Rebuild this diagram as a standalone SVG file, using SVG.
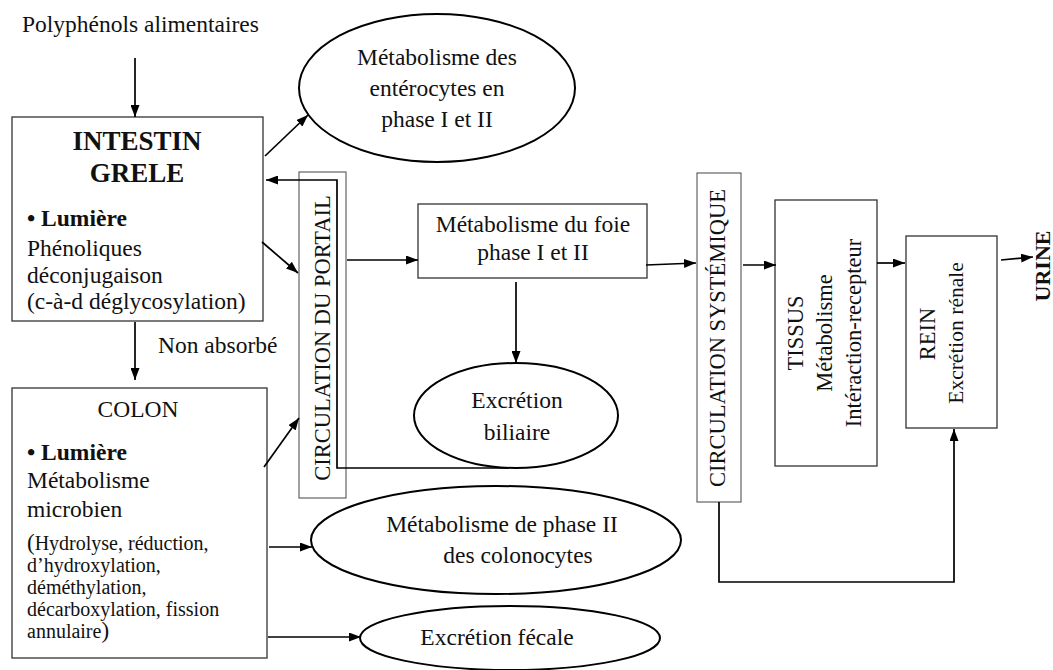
<svg xmlns="http://www.w3.org/2000/svg" width="1053" height="670" viewBox="0 0 1053 670" font-family="'Liberation Serif', 'DejaVu Serif', serif">
  <defs>
    <marker id="arrow" viewBox="0 0 12 9" refX="12" refY="4.5" markerWidth="12" markerHeight="9" markerUnits="userSpaceOnUse" orient="auto">
      <path d="M0,0 L12,4.5 L0,9 z" fill="#000"/>
    </marker>
  </defs>
  <style>
    text { font-family: 'Liberation Serif', 'DejaVu Serif', serif; fill: #111; font-size: 23.5px; }
    .b { font-weight: bold; }
    .title { font-size: 27px; font-weight: bold; }
    .small { font-size: 20px; }
    .rot { font-size: 22.5px; }
    .mid { text-anchor: middle; }
    .box { fill: #fff; stroke: #333; stroke-width: 1.3; }
    .thin { fill: #fff; stroke: #555; stroke-width: 1.1; }
    .oval { fill: #fff; stroke: #000; stroke-width: 2; }
    .link { fill: none; stroke: #000; stroke-width: 1.7; }
    .arr { marker-end: url(#arrow); }
  </style>
  <rect width="1053" height="670" fill="#fff"/>

  <!-- nodes -->
  <g id="polyphenols">
    <text x="22" y="32">Polyphénols alimentaires</text>
  </g>

  <g id="intestin">
    <rect class="box" x="12" y="117" width="251" height="204"/>
    <text class="title mid" x="137" y="150">INTESTIN</text>
    <text class="title mid" x="137" y="182">GRELE</text>
    <text class="b" x="27" y="226">• Lumière</text>
    <text x="27" y="256">Phénoliques</text>
    <text x="27" y="283">déconjugaison</text>
    <text x="27" y="309">(c-à-d déglycosylation)</text>
  </g>

  <g id="non-absorbe">
    <text x="158" y="353">Non absorbé</text>
  </g>

  <g id="colon">
    <rect class="box" x="12" y="388" width="255" height="270"/>
    <text class="mid" x="138" y="417">COLON</text>
    <text class="b" x="27" y="460">• Lumière</text>
    <text x="27" y="488">Métabolisme</text>
    <text x="27" y="517">microbien</text>
    <text class="small" x="27" y="550"><tspan font-size="23">(</tspan>Hydrolyse, réduction,</text>
    <text class="small" x="27" y="572">d’hydroxylation,</text>
    <text class="small" x="27" y="594">déméthylation,</text>
    <text class="small" x="27" y="616">décarboxylation, fission</text>
    <text class="small" x="27" y="638">annulaire<tspan font-size="23">)</tspan></text>
  </g>

  <g id="enterocytes">
    <ellipse class="oval" cx="437" cy="88" rx="138" ry="74"/>
    <text class="mid" x="437" y="65">Métabolisme des</text>
    <text class="mid" x="437" y="96">entérocytes en</text>
    <text class="mid" x="437" y="127">phase I et II</text>
  </g>

  <g id="portail">
    <rect class="thin" x="299" y="172" width="47" height="326"/>
    <text class="rot mid" transform="translate(330,338) rotate(-90)">CIRCULATION DU PORTAIL</text>
  </g>

  <g id="foie">
    <rect class="box" x="418" y="204" width="229" height="74"/>
    <text class="mid" x="533" y="232">Métabolisme du foie</text>
    <text class="mid" x="533" y="260">phase I et II</text>
  </g>

  <g id="biliaire">
    <ellipse class="oval" cx="516" cy="415.5" rx="102" ry="52.5"/>
    <text class="mid" x="517" y="408">Excrétion</text>
    <text class="mid" x="517" y="440">biliaire</text>
  </g>

  <g id="colonocytes">
    <ellipse class="oval" cx="496" cy="540" rx="185" ry="54"/>
    <text class="mid" x="502" y="532">Métabolisme de phase II</text>
    <text class="mid" x="518" y="563">des colonocytes</text>
  </g>

  <g id="fecale">
    <ellipse class="oval" cx="510" cy="638" rx="150" ry="32"/>
    <text class="mid" x="497" y="645">Excrétion fécale</text>
  </g>

  <g id="systemique">
    <rect class="thin" x="697" y="173" width="44" height="329"/>
    <text class="rot mid" transform="translate(725,338) rotate(-90)">CIRCULATION SYSTÉMIQUE</text>
  </g>

  <g id="tissus">
    <rect class="box" x="775" y="200" width="102" height="266"/>
    <text class="rot mid" transform="translate(803,333) rotate(-90)">TISSUS</text>
    <text class="rot mid" transform="translate(832,333) rotate(-90)">Métabolisme</text>
    <text class="rot mid" transform="translate(861,333) rotate(-90)">Intéraction-recepteur</text>
  </g>

  <g id="rein">
    <rect class="box" x="906" y="236" width="91" height="192"/>
    <text class="rot mid" transform="translate(935,334) rotate(-90)">REIN</text>
    <text class="mid" transform="translate(963,333) rotate(-90)" style="font-size:21.5px">Excrétion rénale</text>
  </g>

  <g id="urine">
    <text class="b mid" transform="translate(1050,266) rotate(-90)" style="font-size:22px">URINE</text>
  </g>

  <!-- connectors -->
  <g id="connectors">
    <line class="link arr" x1="135" y1="58" x2="135" y2="117"/>
    <line class="link arr" x1="265" y1="156" x2="308" y2="115"/>
    <line class="link arr" x1="262" y1="242" x2="298" y2="273"/>
    <line class="link arr" x1="135" y1="322" x2="135" y2="380"/>
    <line class="link arr" x1="264" y1="467" x2="299" y2="418"/>
    <line class="link arr" x1="269" y1="547" x2="312" y2="547"/>
    <line class="link arr" x1="268" y1="637" x2="361" y2="637"/>
    <line class="link arr" x1="347" y1="260" x2="418" y2="260"/>
    <line class="link arr" x1="516" y1="282" x2="516" y2="363"/>
    <line class="link arr" x1="646" y1="265" x2="696" y2="263"/>
    <line class="link arr" x1="743" y1="265" x2="776" y2="265"/>
    <line class="link arr" x1="877" y1="263" x2="905" y2="263"/>
    <line class="link arr" x1="1001" y1="260" x2="1033" y2="257"/>
    <polyline class="link arr" points="719,502 719,582 954,582 954,429"/>
    <polyline class="link arr" points="508,468 337,468 337,180 266,180"/>
  </g>
</svg>
